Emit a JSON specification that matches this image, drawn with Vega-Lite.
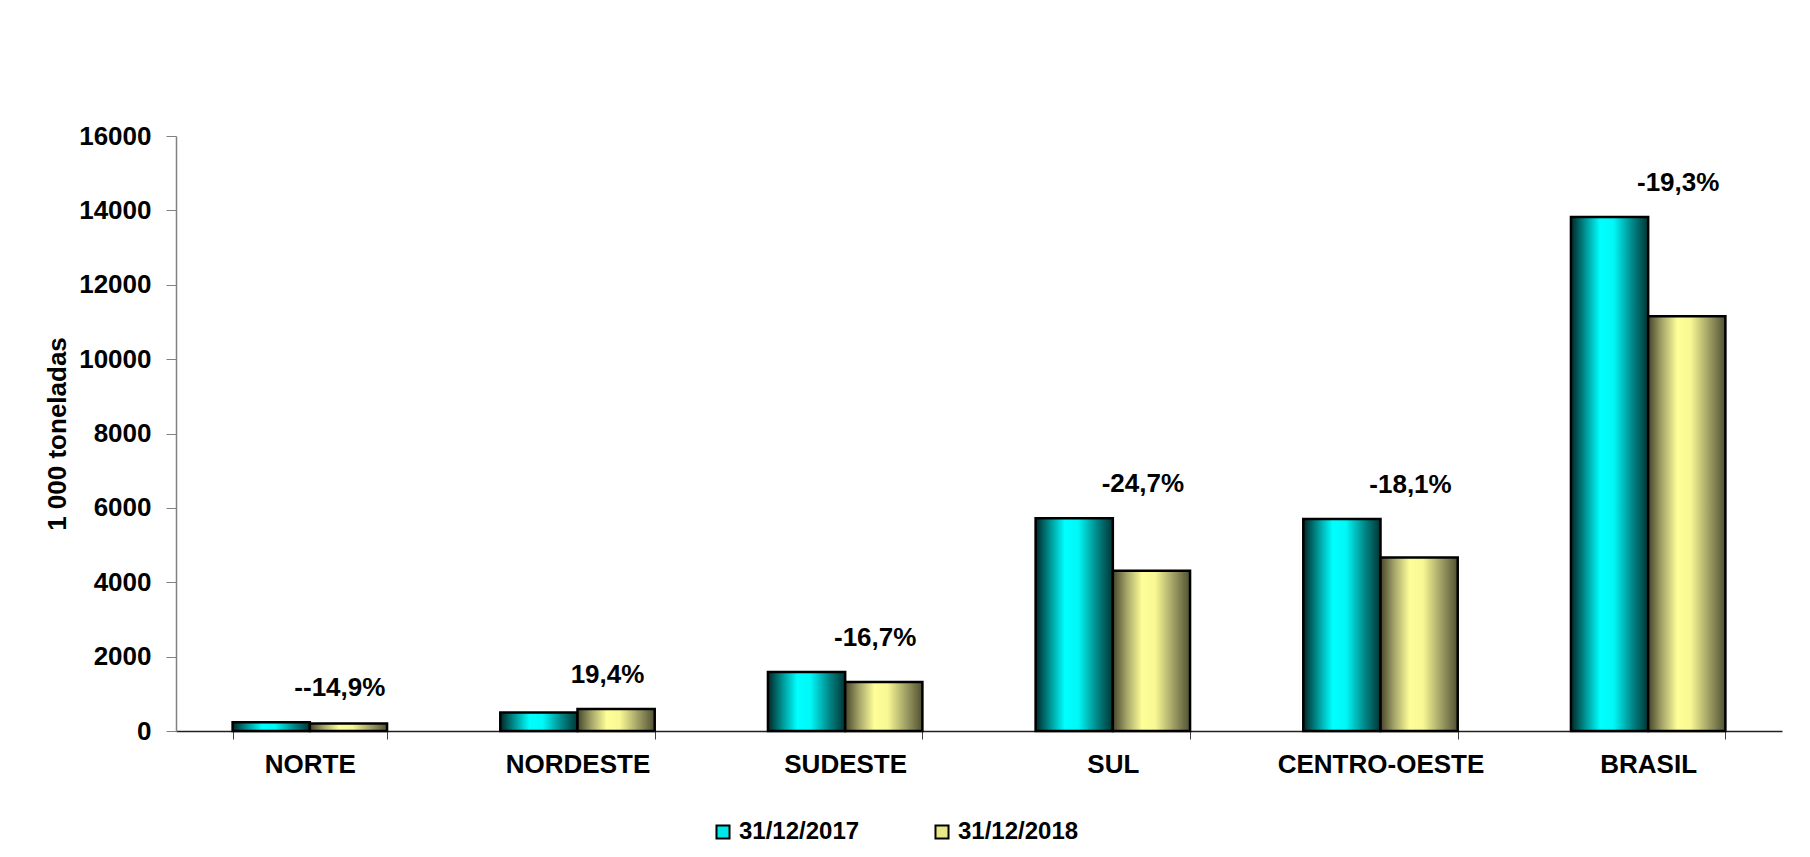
{
  "$schema": "https://vega.github.io/schema/vega-lite/v6.json",
  "width": 1606,
  "height": 595,
  "autosize": "none",
  "padding": {"left": 176, "top": 136, "right": 28, "bottom": 126},
  "background": "white",
  "config": {"view": {"stroke": null}, "font": "Liberation Sans"},
  "datasets": {
    "bars": [
      {"region": "NORTE", "year": "31/12/2017", "value": 235},
      {"region": "NORTE", "year": "31/12/2018", "value": 200},
      {"region": "NORDESTE", "year": "31/12/2017", "value": 497},
      {"region": "NORDESTE", "year": "31/12/2018", "value": 593},
      {"region": "SUDESTE", "year": "31/12/2017", "value": 1584},
      {"region": "SUDESTE", "year": "31/12/2018", "value": 1320},
      {"region": "SUL", "year": "31/12/2017", "value": 5722},
      {"region": "SUL", "year": "31/12/2018", "value": 4308},
      {"region": "CENTRO-OESTE", "year": "31/12/2017", "value": 5701},
      {"region": "CENTRO-OESTE", "year": "31/12/2018", "value": 4668},
      {"region": "BRASIL", "year": "31/12/2017", "value": 13825},
      {"region": "BRASIL", "year": "31/12/2018", "value": 11155}
    ],
    "changes": [
      {"region": "NORTE", "change": "--14,9%"},
      {"region": "NORDESTE", "change": "19,4%"},
      {"region": "SUDESTE", "change": "-16,7%"},
      {"region": "SUL", "change": "-24,7%"},
      {"region": "CENTRO-OESTE", "change": "-18,1%"},
      {"region": "BRASIL", "change": "-19,3%"}
    ]
  },
  "data": {"name": "bars"},
  "encoding": {
    "x": {
      "field": "region",
      "type": "nominal",
      "sort": ["NORTE", "NORDESTE", "SUDESTE", "SUL", "CENTRO-OESTE", "BRASIL"],
      "scale": {"paddingInner": 0.423, "paddingOuter": 0.2115},
      "axis": {
        "title": null,
        "labelAngle": 0,
        "labelFontSize": 26,
        "labelFontWeight": "bold",
        "labelColor": "black",
        "labelPadding": 12,
        "labelLimit": 0,
        "tickBand": "extent",
        "tickSize": 8,
        "tickColor": "#404040",
        "domainColor": "#202020",
        "domainWidth": 1.5
      }
    }
  },
  "layer": [
    {
      "mark": {"type": "bar", "stroke": "black", "strokeWidth": 2.5},
      "encoding": {
        "xOffset": {"field": "year", "type": "nominal"},
        "y": {
          "field": "value",
          "type": "quantitative",
          "scale": {"domain": [0, 16000], "nice": false},
          "axis": {
            "title": "1 000 toneladas",
            "titleFontSize": 26,
            "titleFontWeight": "bold",
            "titleColor": "black",
            "titlePadding": 8,
            "values": [0, 2000, 4000, 6000, 8000, 10000, 12000, 14000, 16000],
            "format": "d",
            "grid": false,
            "labelFontSize": 26,
            "labelFontWeight": "bold",
            "labelColor": "black",
            "labelPadding": 15,
            "tickSize": 10,
            "tickColor": "#808080",
            "domainColor": "#808080",
            "domainWidth": 1.5
          }
        },
        "fill": {
          "condition": {
            "test": "datum.year === '31/12/2017'",
            "value": {"gradient": "linear", "x1": 0, "y1": 0, "x2": 1, "y2": 0,
               "stops": [
                 {"offset": 0, "color": "#002626"},
                 {"offset": 0.18, "color": "#009090"},
                 {"offset": 0.38, "color": "#00ffff"},
                 {"offset": 0.55, "color": "#00f8f8"},
                 {"offset": 0.8, "color": "#008585"},
                 {"offset": 1, "color": "#003535"}
               ]}
          },
          "value": {"gradient": "linear", "x1": 0, "y1": 0, "x2": 1, "y2": 0,
               "stops": [
                 {"offset": 0, "color": "#45452a"},
                 {"offset": 0.18, "color": "#a5a56a"},
                 {"offset": 0.38, "color": "#ffff99"},
                 {"offset": 0.55, "color": "#f8f894"},
                 {"offset": 0.8, "color": "#9a9a62"},
                 {"offset": 1, "color": "#505032"}
               ]}
        }
      }
    },
    {
      "mark": {"type": "point", "shape": "square", "filled": true, "opacity": 0},
      "encoding": {
        "xOffset": {"field": "year", "type": "nominal"},
        "y": {"field": "value", "type": "quantitative"},
        "fill": {
          "field": "year",
          "type": "nominal",
          "scale": {"domain": ["31/12/2017", "31/12/2018"], "range": ["#00e8e8", "#e8e88a"]},
          "legend": {
            "title": null,
            "orient": "none",
            "direction": "horizontal",
            "legendX": 535,
            "legendY": 684,
            "padding": 0,
            "symbolType": "square",
            "symbolSize": 170,
            "symbolOpacity": 1,
            "symbolStrokeColor": "black",
            "symbolStrokeWidth": 2,
            "labelFontSize": 24,
            "labelFontWeight": "bold",
            "labelColor": "black",
            "labelOffset": 4,
            "columnPadding": 70
          }
        }
      }
    },
    {
      "transform": [
        {"aggregate": [{"op": "max", "field": "value", "as": "top"}], "groupby": ["region"]},
        {"lookup": "region", "from": {"data": {"name": "changes"}, "key": "region", "fields": ["change"]}}
      ],
      "mark": {"type": "text", "fontSize": 26, "fontWeight": "bold", "color": "black", "dx": 30, "dy": -34, "baseline": "middle"},
      "encoding": {
        "y": {"field": "top", "type": "quantitative"},
        "text": {"field": "change"}
      }
    }
  ]
}
